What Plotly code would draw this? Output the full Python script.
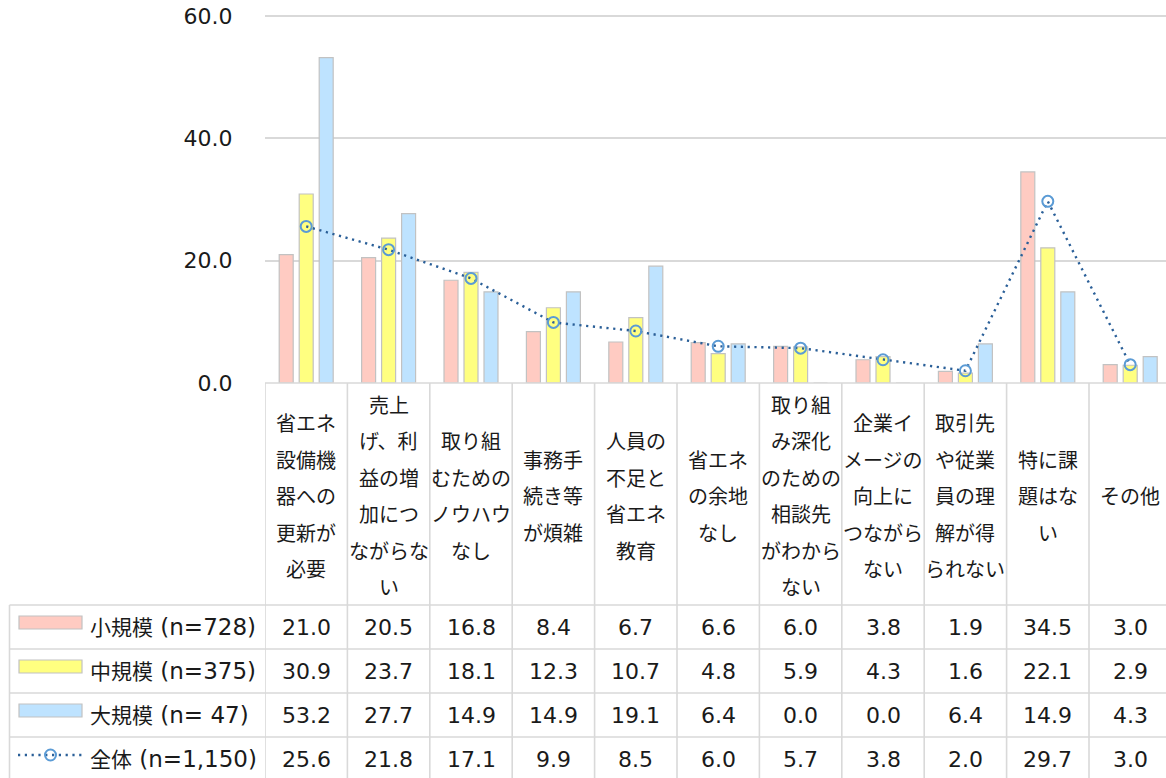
import plotly.graph_objects as go

# ---- data -------------------------------------------------------------
categories = [
    "省エネ\n設備機\n器への\n更新が\n必要",
    "売上\nげ、利\n益の増\n加につ\nながらな\nい",
    "取り組\nむための\nノウハウ\nなし",
    "事務手\n続き等\nが煩雑",
    "人員の\n不足と\n省エネ\n教育",
    "省エネ\nの余地\nなし",
    "取り組\nみ深化\nのための\n相談先\nがわから\nない",
    "企業イ\nメージの\n向上に\nつながら\nない",
    "取引先\nや従業\n員の理\n解が得\nられない",
    "特に課\n題はな\nい",
    "その他",
]
small = [21.0, 20.5, 16.8, 8.4, 6.7, 6.6, 6.0, 3.8, 1.9, 34.5, 3.0]
medium = [30.9, 23.7, 18.1, 12.3, 10.7, 4.8, 5.9, 4.3, 1.6, 22.1, 2.9]
large = [53.2, 27.7, 14.9, 14.9, 19.1, 6.4, 0.0, 0.0, 6.4, 14.9, 4.3]
overall = [25.6, 21.8, 17.1, 9.9, 8.5, 6.0, 5.7, 3.8, 2.0, 29.7, 3.0]
series_names = ["小規模 (n=728)", "中規模 (n=375)", "大規模 (n= 47)", "全体 (n=1,150)"]
y_ticks = [0, 20, 40, 60]

# ---- styling ----------------------------------------------------------
W, H = 1166, 778
FONT = "DejaVu Sans, Noto Sans CJK JP, sans-serif"
TXT = "#1a1a1a"
GRID = "#d9d9d9"
BAR_EDGE = "#c2c2c2"
COLORS = ["#ffcbc2", "#ffff80", "#bee3ff"]
LINE_C = "#2a5f98"
MARK_C = "#5b9bd5"
NUM_SIZE = 22
CAT_SIZE = 20
DOTS = "2.2px,4.6px"

PLOT_L, PLOT_BOT = 265, 383
PX_PER_UNIT = (383 - 16) / 60.0          # pixels per percentage point
Y_MAX = 60.6
PLOT_TOP = PLOT_BOT - Y_MAX * PX_PER_UNIT
COL_W = 82.4
X_MAX = -0.5 + (W - PLOT_L) / COL_W
ROW_LINES = [605, 649, 693, 737]
ROW_CENTERS = [627, 671, 715, 759]


def px(x):
    return x / W


def py(y):
    return 1 - y / H


fig = go.Figure()
x_idx = list(range(len(categories)))
for name, vals, col in zip(series_names[:3], [small, medium, large], COLORS):
    fig.add_trace(go.Bar(
        x=x_idx, y=vals, name=name,
        marker=dict(color=col, line=dict(color=BAR_EDGE, width=1.2)),
    ))
fig.add_trace(go.Scatter(
    x=x_idx, y=overall, name=series_names[3], mode="lines+markers",
    line=dict(color=LINE_C, width=2.4, dash=DOTS),
    marker=dict(symbol="circle", size=11, color="rgba(255,255,255,0)",
                line=dict(color=MARK_C, width=2)),
))

shapes = []
ann = []

# axis baseline across the category row
shapes.append(dict(type="line", xref="paper", yref="paper",
                   x0=px(PLOT_L), x1=1, y0=py(PLOT_BOT), y1=py(PLOT_BOT),
                   line=dict(color=GRID, width=1.6)))
# column dividers of the category/data table
for i in range(len(categories) + 1):
    shapes.append(dict(type="line", xref="x", yref="paper",
                       x0=i - 0.5, x1=i - 0.5, y0=py(PLOT_BOT), y1=0,
                       line=dict(color=GRID, width=1.6)))
# left border of the data rows
shapes.append(dict(type="line", xref="paper", yref="paper",
                   x0=px(9.5), x1=px(9.5), y0=py(ROW_LINES[0]), y1=0,
                   line=dict(color=GRID, width=1.6)))
# horizontal row lines
for yl in ROW_LINES:
    shapes.append(dict(type="line", xref="paper", yref="paper",
                       x0=px(9.5), x1=1, y0=py(yl), y1=py(yl),
                       line=dict(color=GRID, width=1.6)))

# category labels, one line per annotation
LINE_GAP = 36.5
CAT_CENTER = 497
for i, lab in enumerate(categories):
    lines = lab.split("\n")
    n = len(lines)
    for k, s in enumerate(lines):
        yc = CAT_CENTER + (k - (n - 1) / 2) * LINE_GAP
        ann.append(dict(xref="x", yref="paper", x=i, y=py(yc), text=s,
                        showarrow=False, xanchor="center", yanchor="middle",
                        font=dict(family=FONT, size=CAT_SIZE, color=TXT)))

# data table values
for r, vals in enumerate([small, medium, large, overall]):
    for i, v in enumerate(vals):
        ann.append(dict(xref="x", yref="paper", x=i, y=py(ROW_CENTERS[r]),
                        text=f"{v:.1f}", showarrow=False,
                        xanchor="center", yanchor="middle",
                        font=dict(family=FONT, size=NUM_SIZE, color=TXT)))

# legend keys and series names in the first column
swatch_tops = [616, 660, 704]
for r in range(3):
    shapes.append(dict(type="rect", xref="paper", yref="paper",
                       x0=px(19), x1=px(82), y0=py(swatch_tops[r]),
                       y1=py(swatch_tops[r] + 13),
                       fillcolor=COLORS[r], line=dict(color=BAR_EDGE, width=1.2)))
shapes.append(dict(type="line", xref="paper", yref="paper",
                   x0=px(18), x1=px(82), y0=py(755), y1=py(755),
                   line=dict(color=LINE_C, width=2.4, dash=DOTS)))
shapes.append(dict(type="circle", xref="paper", yref="paper",
                   x0=px(45), x1=px(56), y0=py(749.5), y1=py(760.5),
                   fillcolor="rgba(255,255,255,0)",
                   line=dict(color=MARK_C, width=2)))
for r, name in enumerate(series_names):
    head, tail = name.split(" ", 1)
    label = f'<span style="font-size:{CAT_SIZE + 1}px">{head}</span> {tail}'
    ann.append(dict(xref="paper", yref="paper", x=px(88), y=py(ROW_CENTERS[r]),
                    text=label, showarrow=False, xanchor="left", yanchor="middle",
                    font=dict(family=FONT, size=NUM_SIZE + 1, color=TXT)))

fig.update_layout(
    width=W, height=H,
    margin=dict(l=0, r=0, t=0, b=0, pad=0),
    paper_bgcolor="white", plot_bgcolor="white",
    barmode="group", bargap=0.272, bargroupgap=0.3,
    showlegend=False,
    font=dict(family=FONT, size=NUM_SIZE, color=TXT),
    xaxis=dict(domain=[px(PLOT_L), 1], range=[-0.5, X_MAX], automargin=False,
               showticklabels=False, showgrid=False, zeroline=False,
               showline=False, ticks=""),
    yaxis=dict(domain=[py(PLOT_BOT), py(PLOT_TOP)], range=[0, Y_MAX],
               automargin=False,
               tickvals=y_ticks, ticktext=[f"{t:.1f}" for t in y_ticks],
               showgrid=True, gridcolor=GRID, gridwidth=1.6,
               zeroline=False, showline=False,
               ticks="outside", ticklen=27, tickcolor="rgba(0,0,0,0)",
               tickfont=dict(family=FONT, size=NUM_SIZE, color=TXT)),
    shapes=shapes,
    annotations=ann,
)

fig.write_html("out.html")
